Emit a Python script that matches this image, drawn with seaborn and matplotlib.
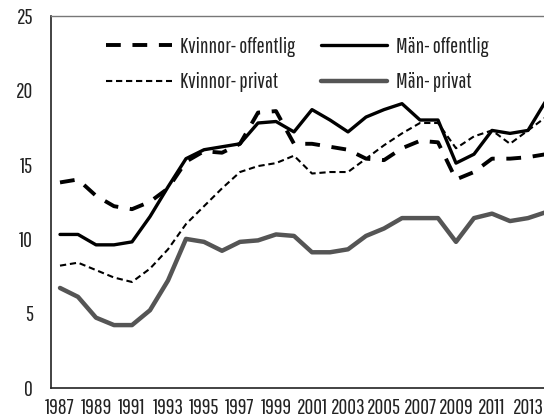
import numpy as np
import pandas as pd
import seaborn as sns
import matplotlib.pyplot as plt

# years shown (2014 is partly cut off at the right edge, as in the original)
years = list(range(1987, 2015))

kvinnor_offentlig = [13.8, 14.0, 12.9, 12.2, 12.0, 12.5, 13.4, 15.2, 15.9, 15.8,
                     16.4, 18.5, 18.6, 16.4, 16.4, 16.2, 16.0, 15.4, 15.3, 16.1,
                     16.6, 16.5, 14.0, 14.5, 15.4, 15.4, 15.5, 15.7]
kvinnor_privat = [8.2, 8.4, 7.9, 7.4, 7.1, 8.0, 9.3, 11.0, 12.2, 13.4,
                  14.5, 14.9, 15.1, 15.6, 14.4, 14.5, 14.5, 15.4, 16.3, 17.1,
                  17.8, 17.8, 16.1, 16.9, 17.3, 16.4, 17.3, 18.2]
man_offentlig = [10.3, 10.3, 9.6, 9.6, 9.8, 11.5, 13.5, 15.4, 16.0, 16.2,
                 16.4, 17.8, 17.9, 17.2, 18.7, 18.0, 17.2, 18.2, 18.7, 19.1,
                 18.0, 18.0, 15.1, 15.7, 17.3, 17.1, 17.3, 19.3]
man_privat = [6.7, 6.1, 4.7, 4.2, 4.2, 5.2, 7.2, 10.0, 9.8, 9.2,
              9.8, 9.9, 10.3, 10.2, 9.1, 9.1, 9.3, 10.2, 10.7, 11.4,
              11.4, 11.4, 9.8, 11.4, 11.7, 11.2, 11.4, 11.8]

labels = ["Kvinnor- offentlig", "Kvinnor- privat", "Män- offentlig", "Män- privat"]

sns.set_style("white")
plt.rcParams["font.family"] = ["Pathway Gothic One", "DejaVu Sans"]
plt.rcParams["text.color"] = "#222222"
plt.rcParams["xtick.labelcolor"] = "#222222"
plt.rcParams["ytick.labelcolor"] = "#222222"

FS = 15.5

fig = plt.figure(figsize=(5.44, 4.18), dpi=100)
ax = fig.add_axes([51 / 544, 30.5 / 418, 1 - 51 / 544, 371.5 / 418])

df = pd.DataFrame({"year": years})
series = [
    (kvinnor_offentlig, dict(color="black", lw=2.8, linestyle=(0, (3.8, 3.0)))),
    (kvinnor_privat, dict(color="black", lw=1.5, linestyle=(0, (3.0, 1.8)))),
    (man_offentlig, dict(color="black", lw=2.4, linestyle="-")),
    (man_privat, dict(color="#555555", lw=3.2, linestyle="-")),
]
for (vals, style), lab in zip(series, labels):
    sns.lineplot(x=df["year"], y=vals, ax=ax, label=lab, **style)

ax.set_xlim(1986.5, 1986.5 + 493 / 18)
ax.set_ylim(0, 25)
ax.set_yticks(np.arange(0, 26, 5))
ax.set_xticks(list(range(1987, 2014, 2)))
ax.set_xticks(np.arange(1986.5, 2014, 1), minor=True)
ax.tick_params(axis="x", which="major", length=0, pad=7.5, labelsize=FS)
ax.tick_params(axis="x", which="minor", direction="inout", length=8, width=1, color="#222222")
ax.tick_params(axis="y", direction="inout", length=9, width=1, color="#222222", pad=8.5, labelsize=FS)
ax.set_xlabel("")
ax.set_ylabel("")

for side in ["left", "bottom"]:
    ax.spines[side].set_color("#222222")
    ax.spines[side].set_linewidth(1.2)
ax.spines["top"].set_color("#777777")
ax.spines["top"].set_linewidth(1.0)
ax.spines["right"].set_visible(False)

ax.legend(ncol=2, frameon=False, handlelength=3.05, columnspacing=1.2,
          labelspacing=0.7, fontsize=FS, handletextpad=0.4,
          borderpad=0, borderaxespad=0,
          loc="upper left", bbox_to_anchor=(106 / 544, 1 - 37 / 418),
          bbox_transform=fig.transFigure)

fig.savefig("out.png", dpi=100)
